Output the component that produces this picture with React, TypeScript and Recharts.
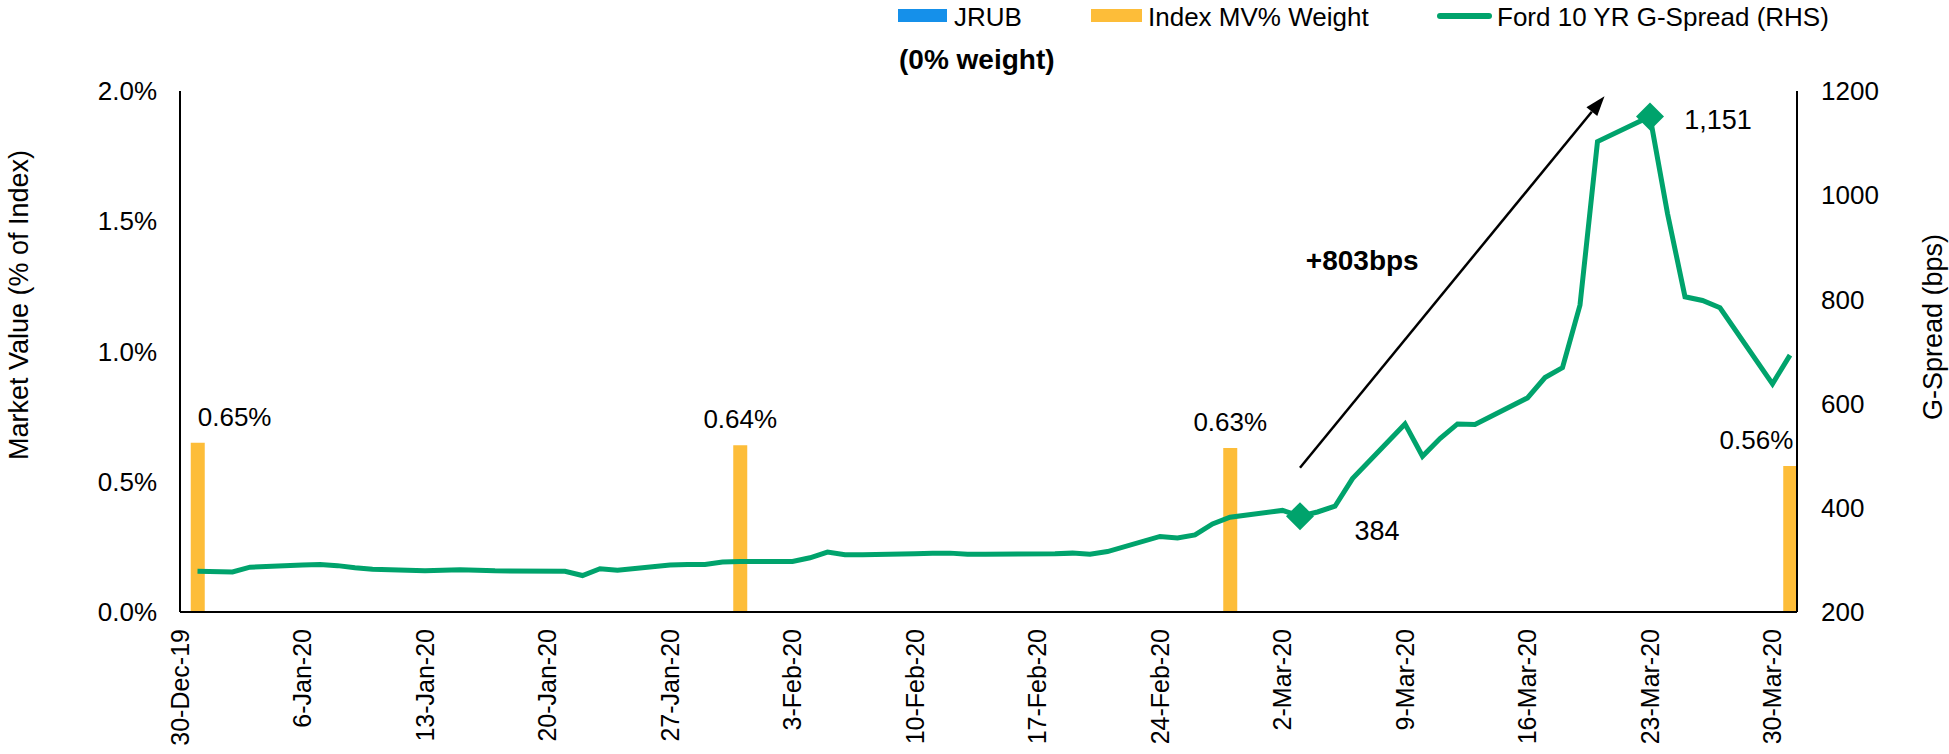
import React from 'react'
import {
  ComposedChart, Bar, Line, XAxis, YAxis, LabelList, ReferenceLine
} from 'recharts'

const FONT = '"Liberation Sans", Arial, Helvetica, sans-serif'
const GREEN = '#00A36C'
const ORANGE = '#FDBD39'
const BLUE = '#1590EA'

// axis origin: the first tick date
const startDate = '2019-12-30'

const spreadDates = [
  '2019-12-31', '2020-01-02', '2020-01-03',
  '2020-01-06', '2020-01-07', '2020-01-08', '2020-01-09', '2020-01-10',
  '2020-01-13', '2020-01-14', '2020-01-15', '2020-01-16', '2020-01-17',
  '2020-01-21', '2020-01-22', '2020-01-23', '2020-01-24',
  '2020-01-27', '2020-01-28', '2020-01-29', '2020-01-30', '2020-01-31',
  '2020-02-03', '2020-02-04', '2020-02-05', '2020-02-06', '2020-02-07',
  '2020-02-10', '2020-02-11', '2020-02-12', '2020-02-13', '2020-02-14',
  '2020-02-18', '2020-02-19', '2020-02-20', '2020-02-21',
  '2020-02-24', '2020-02-25', '2020-02-26', '2020-02-27', '2020-02-28',
  '2020-03-02', '2020-03-03', '2020-03-04', '2020-03-05', '2020-03-06',
  '2020-03-09', '2020-03-10', '2020-03-11', '2020-03-12', '2020-03-13',
  '2020-03-16', '2020-03-17', '2020-03-18', '2020-03-19', '2020-03-20',
  '2020-03-23', '2020-03-24', '2020-03-25', '2020-03-26', '2020-03-27',
  '2020-03-30', '2020-03-31',
]
const spreadValues = [
  278, 277, 286,
  290, 291, 289, 285, 282,
  279, 280, 281, 280, 279,
  278, 270, 283, 280,
  290, 291, 291, 296, 297,
  297, 304, 315, 310, 310,
  312, 313, 313, 311, 311,
  312, 313, 311, 316,
  345, 342, 348, 369, 382,
  395, 384, 392, 403, 456,
  561, 499, 533, 561, 560,
  611, 650, 669, 789, 1103,
  1151, 965, 805, 798, 784,
  638, 693,
]

const weightDates = ['2019-12-31', '2020-01-31', '2020-02-28', '2020-03-31']
const weightValues = [0.65, 0.64, 0.63, 0.56]
const jrubValues = [0, 0, 0, 0]

const markedDates = ['2020-03-03', '2020-03-23']

const xTickDates = [
  '2019-12-30', '2020-01-06', '2020-01-13', '2020-01-20', '2020-01-27',
  '2020-02-03', '2020-02-10', '2020-02-17', '2020-02-24', '2020-03-02',
  '2020-03-09', '2020-03-16', '2020-03-23', '2020-03-30',
]
const leftTicks = [0, 0.5, 1, 1.5, 2]
const rightTicks = [200, 400, 600, 800, 1000, 1200]

// arrow annotation in (day, bps)
const arrowStart = { day: 64, bps: 477 }
const arrowEnd = { day: 81.4, bps: 1190 }

const MONTHS = ['Jan', 'Feb', 'Mar', 'Apr', 'May', 'Jun', 'Jul', 'Aug', 'Sep', 'Oct', 'Nov', 'Dec']
const DAY_MS = 86400000
const dayOf = (iso: string) => (Date.parse(iso) - Date.parse(startDate)) / DAY_MS
const fmtDay = (d: number) => {
  const dt = new Date(Date.parse(startDate) + d * DAY_MS)
  return `${dt.getUTCDate()}-${MONTHS[dt.getUTCMonth()]}-${String(dt.getUTCFullYear()).slice(2)}`
}

const table = spreadDates.map((date, i) => {
  const w = weightDates.indexOf(date)
  return {
    date,
    day: dayOf(date),
    spread: spreadValues[i],
    weight: w >= 0 ? weightValues[w] : null,
    jrub: w >= 0 ? jrubValues[w] : null,
  }
})
const xTicks = xTickDates.map(dayOf)

const XTick = ({ x, y, payload }: any) => (
  <text x={x} y={y} transform={`rotate(-90, ${x}, ${y})`} textAnchor="end" dy="0.35em"
    fontSize={25} fill="#000">
    {fmtDay(payload.value)}
  </text>
)

const AxisTitle = ({ tx, ty, text }: any) => (
  <text x={tx} y={ty} transform={`rotate(-90, ${tx}, ${ty})`} textAnchor="middle"
    dominantBaseline="central" fontSize={27} fill="#000">
    {text}
  </text>
)

// label value is the row's date; look the weight up from it
const WeightLabel = (props: any) => {
  const { x, y, width, value } = props
  const w = weightDates.indexOf(value)
  if (w < 0) return null
  const cx = x + width / 2
  const last = w === weightDates.length - 1
  const anchor = w === 0 ? 'start' : last ? 'end' : 'middle'
  return (
    <text x={last ? cx + 3 : cx} y={y - 26} textAnchor={anchor} dominantBaseline="central"
      fontSize={26} fill="#000">
      {weightValues[w].toFixed(2)}%
    </text>
  )
}

const MarkerDot = (props: any) => {
  const { cx, cy, payload, index } = props
  const m = markedDates.indexOf(payload.date)
  if (m < 0) return <g key={`dot-${index}`} />
  const r = 14
  const off = m === 0 ? { dx: 77, dy: 15 } : { dx: 68, dy: 3 }
  return (
    <g key={`dot-${index}`}>
      <polygon points={`${cx},${cy - r} ${cx + r},${cy} ${cx},${cy + r} ${cx - r},${cy}`} fill={GREEN} />
      <text x={cx + off.dx} y={cy + off.dy} textAnchor="middle" dominantBaseline="central"
        fontSize={27} fill="#000">
        {payload.spread.toLocaleString('en-US')}
      </text>
    </g>
  )
}

const ArrowShape = (props: any) => {
  const { x1, y1, x2, y2 } = props
  const a = Math.atan2(y2 - y1, x2 - x1)
  const len = 20
  const half = 7
  const bx = x2 - len * Math.cos(a)
  const by = y2 - len * Math.sin(a)
  const px = half * Math.sin(a)
  const py = -half * Math.cos(a)
  return (
    <g>
      <line x1={x1} y1={y1} x2={bx} y2={by} stroke="#000" strokeWidth={2.5} />
      <polygon points={`${x2},${y2} ${bx + px},${by + py} ${bx - px},${by - py}`} fill="#000" />
      <text x={(x1 + x2) / 2 - 90} y={(y1 + y2) / 2 - 21} textAnchor="middle" dominantBaseline="central"
        fontSize={28} fontWeight="bold" fill="#000">
        +803bps
      </text>
    </g>
  )
}

const legendText: React.CSSProperties = {
  position: 'absolute', fontSize: 26, lineHeight: '26px', color: '#000', whiteSpace: 'nowrap'
}

const ChartLegend = () => (
  <div style={{ position: 'absolute', left: 0, top: 0, width: 1949, height: 80, fontFamily: FONT }}>
    <div style={{ position: 'absolute', left: 898, top: 9, width: 49, height: 13, background: BLUE }} />
    <div style={{ ...legendText, left: 954, top: 4 }}>JRUB</div>
    <div style={{ ...legendText, left: 899, top: 46, fontSize: 28, lineHeight: '28px', fontWeight: 'bold' }}>
      (0% weight)
    </div>
    <div style={{ position: 'absolute', left: 1091, top: 9, width: 51, height: 13, background: ORANGE }} />
    <div style={{ ...legendText, left: 1148, top: 4 }}>Index MV% Weight</div>
    <div style={{ position: 'absolute', left: 1437, top: 13, width: 55, height: 6, borderRadius: 3, background: GREEN }} />
    <div style={{ ...legendText, left: 1497, top: 4 }}>Ford 10 YR G-Spread (RHS)</div>
  </div>
)

export default function App() {
  return (
    <div style={{ position: 'absolute', left: 0, top: 0, width: 1949, height: 754, background: '#fff', fontFamily: FONT }}>
      <ComposedChart width={1949} height={754} data={table}
        margin={{ top: 91, right: 0, bottom: 0, left: 0 }} style={{ fontFamily: FONT }}>
        <XAxis dataKey="day" type="number" domain={[0, 92.4]} ticks={xTicks} interval={0}
          height={142} tickSize={0} tickMargin={17} tick={<XTick />}
          axisLine={{ stroke: '#000', strokeWidth: 2 }} />
        <YAxis yAxisId="left" orientation="left" domain={[0, 2]} ticks={leftTicks} width={180}
          tickSize={0} tickMargin={23} tickFormatter={(v: number) => `${v.toFixed(1)}%`}
          tick={{ fill: '#000', fontSize: 26 }} axisLine={{ stroke: '#000', strokeWidth: 2 }}
          label={<AxisTitle tx={19} ty={305} text="Market Value (% of Index)" />} />
        <YAxis yAxisId="right" orientation="right" domain={[200, 1200]} ticks={rightTicks} width={152}
          tickSize={0} tickMargin={24} tick={{ fill: '#000', fontSize: 26 }}
          axisLine={{ stroke: '#000', strokeWidth: 2 }}
          label={<AxisTitle tx={1933} ty={327} text="G-Spread (bps)" />} />
        <Bar yAxisId="left" dataKey="jrub" name="JRUB" stackId="mv" fill={BLUE} barSize={14}
          isAnimationActive={false} />
        <Bar yAxisId="left" dataKey="weight" name="Index MV% Weight" stackId="mv" fill={ORANGE}
          barSize={14} isAnimationActive={false}>
          <LabelList dataKey="date" content={<WeightLabel />} />
        </Bar>
        <Line yAxisId="right" dataKey="spread" name="Ford 10 YR G-Spread (RHS)" type="linear"
          stroke={GREEN} strokeWidth={5} dot={MarkerDot} activeDot={false}
          isAnimationActive={false} />
        <ReferenceLine yAxisId="right" ifOverflow="visible"
          segment={[{ x: arrowStart.day, y: arrowStart.bps }, { x: arrowEnd.day, y: arrowEnd.bps }]}
          shape={ArrowShape} />
      </ComposedChart>
      <ChartLegend />
    </div>
  )
}
